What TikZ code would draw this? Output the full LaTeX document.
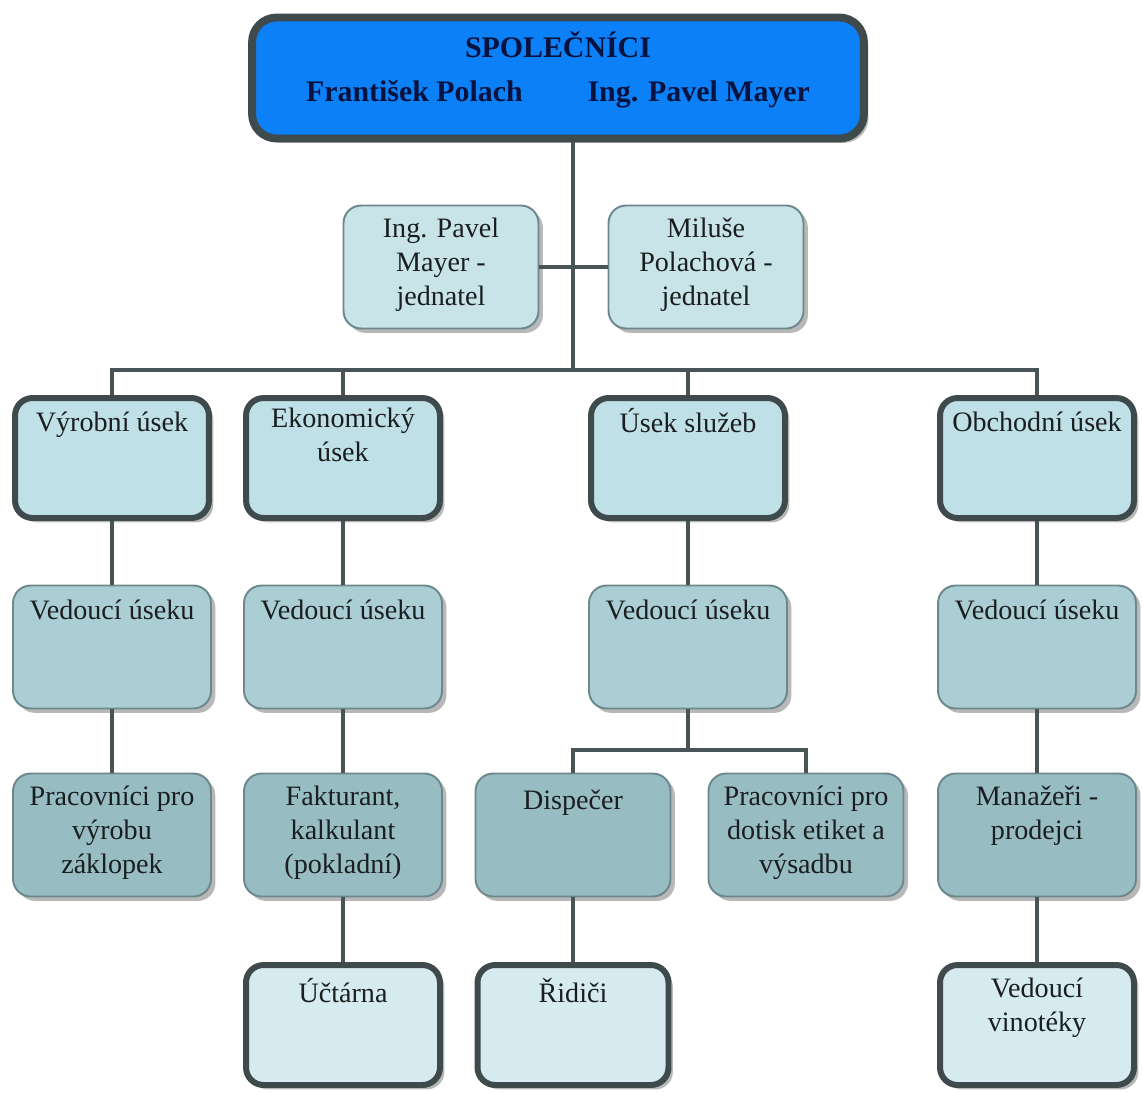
\documentclass[tikz,border=0pt]{standalone}
\usepackage{fontspec}
\setmainfont{Liberation Serif}
\usetikzlibrary{shadows}
\definecolor{topblue}{RGB}{12,128,246}
\definecolor{framegray}{RGB}{62,74,76}
\definecolor{edgegray}{RGB}{108,136,140}
\definecolor{linkgray}{RGB}{72,84,86}
\definecolor{inkgray}{RGB}{26,30,32}
\definecolor{navyink}{RGB}{8,18,62}
\definecolor{fillA}{RGB}{191,224,230}
\definecolor{fillB}{RGB}{171,206,212}
\definecolor{fillC}{RGB}{151,188,194}
\definecolor{fillD}{RGB}{213,235,239}
\definecolor{fillJ}{RGB}{200,228,232}

\begin{document}
\begin{tikzpicture}[x=0.02cm,y=-0.02cm,line join=round,
  every node/.style={inner sep=0pt},
  shade box/.style={rounded corners=10pt,
    drop shadow={shadow xshift=2.5pt,shadow yshift=-2.5pt,fill=black,opacity=0.28}},
  unitbox/.style={shade box,draw=framegray,line width=3.4pt,fill=fillA,
    minimum width=3.88cm,minimum height=2.4cm},
  leadbox/.style={shade box,draw=edgegray,line width=1.1pt,fill=fillB,
    minimum width=3.96cm,minimum height=2.46cm},
  staffbox/.style={leadbox,fill=fillC},
  subbox/.style={unitbox,fill=fillD},
  jedbox/.style={leadbox,fill=fillJ,minimum width=3.9cm},
  txt/.style={anchor=north,align=center,yshift=#1,text=inkgray,
    font=\fontsize{16}{19.4}\selectfont,execute at begin node=\strut},
  toptxt/.style={anchor=north,align=center,yshift=-10pt,text=navyink,
    font=\fontsize{17}{20.4}\selectfont\bfseries,execute at begin node=\strut},
  link/.style={draw=linkgray,line width=2.6pt,line join=miter}]
  \useasboundingbox (0,0) rectangle (1142,1093);

  \node[shade box,draw=framegray,line width=4.5pt,fill=topblue,rounded corners=14pt,
    minimum width=12.24cm,minimum height=2.42cm,
    label={[toptxt]north:{SPOLEČNÍCI\\[4.6pt]František Polach\hspace{1.3cm}Ing. Pavel Mayer}}] (spol) at (558,78) {};

  \node[jedbox,label={[txt=-7.4pt]north:{Ing. Pavel\\Mayer -\\jednatel}}] (jed1) at (441,267) {};
  \node[jedbox,label={[txt=-7.4pt]north:{Miluše\\Polachová -\\jednatel}}] (jed2) at (706,267) {};

  \node[unitbox,label={[txt=-7.2pt]north:{Výrobní úsek}}] (vyr1) at (112,458) {};
  \node[unitbox,label={[txt=-7.2pt]north:{Ekonomický\\úsek}}] (ekon1) at (343,458) {};
  \node[unitbox,label={[txt=-7.2pt]north:{Úsek služeb}}] (sluz1) at (688,458) {};
  \node[unitbox,label={[txt=-7.2pt]north:{Obchodní úsek}}] (obch1) at (1037,458) {};

  \node[leadbox,label={[txt=-6.1pt]north:{Vedoucí úseku}}] (vyr2) at (112,647) {};
  \node[leadbox,label={[txt=-6.1pt]north:{Vedoucí úseku}}] (ekon2) at (343,647) {};
  \node[leadbox,label={[txt=-6.1pt]north:{Vedoucí úseku}}] (sluz2) at (688,647) {};
  \node[leadbox,label={[txt=-6.1pt]north:{Vedoucí úseku}}] (obch2) at (1037,647) {};

  \node[staffbox,label={[txt=-7.5pt]north:{Pracovníci pro\\výrobu\\záklopek}}] (vyr3) at (112,835) {};
  \node[staffbox,label={[txt=-7.5pt]north:{Fakturant,\\kalkulant\\(pokladní)}}] (ekon3) at (343,835) {};
  \node[staffbox,minimum width=3.9cm,label={[txt=-7.5pt]north:{Dispečer}}] (disp) at (573,835) {};
  \node[staffbox,minimum width=3.9cm,label={[txt=-7.5pt]north:{Pracovníci pro\\dotisk etiket a\\výsadbu}}] (dotisk) at (806,835) {};
  \node[staffbox,label={[txt=-7.5pt]north:{Manažeři -\\prodejci}}] (obch3) at (1037,835) {};

  \node[subbox,label={[txt=-9pt]north:{Účtárna}}] (ekon4) at (343,1025) {};
  \node[subbox,minimum width=3.82cm,label={[txt=-9pt]north:{Řidiči}}] (ridici) at (573,1025) {};
  \node[subbox,label={[txt=-9pt]north:{Vedoucí\\vinotéky}}] (obch4) at (1037,1025) {};

  \coordinate (hub) at (573,370);
  \coordinate (split) at (688,750);
  \draw[link] (spol.south -| hub) -- (hub);
  \draw[link] (jed1.east) -- (jed2.west);
  \draw[link] (vyr1.north) |- (hub) -| (obch1.north);
  \foreach \u in {ekon1,sluz1}
    \draw[link] (\u.north) -- (\u.north |- hub);
  \foreach \a/\b in {vyr1/vyr2,vyr2/vyr3,ekon1/ekon2,ekon2/ekon3,ekon3/ekon4,
      sluz1/sluz2,obch1/obch2,obch2/obch3,obch3/obch4,disp/ridici}
    \draw[link] (\a) -- (\b);
  \draw[link] (sluz2) -- (split);
  \draw[link] (disp.north) |- (split) -| (dotisk.north);
\end{tikzpicture}
\end{document}
